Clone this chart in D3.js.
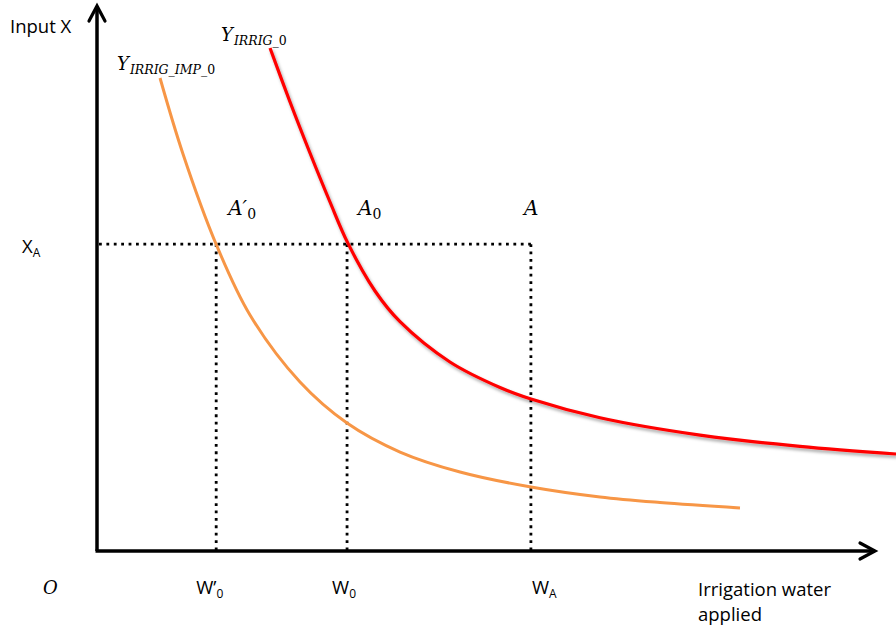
<!DOCTYPE html>
<html>
<head>
<meta charset="utf-8">
<script src="https://cdn.jsdelivr.net/npm/d3@7"></script>
<style>
  html, body { margin: 0; padding: 0; background: #fff; }
  svg { display: block; }
  .sans { font-family: "Open Sans", Lato, sans-serif; fill: #000; }
  .math { font-family: "DejaVu Serif", serif; font-style: italic; fill: #000; }
</style>
</head>
<body>
<script>
// Isoquant for the current irrigation technology (Y_IRRIG_0)
const redWater = [22.21, 24.78, 27.34, 29.91, 32.22, 35.69, 38.90, 45.31, 51.73, 55.71, 64.57, 77.41, 90.24, 102.57];
const redInput = [92.12, 82.23, 72.89, 63.92, 56.34, 47.62, 42.00, 34.62, 29.95, 27.84, 24.41, 21.23, 19.16, 17.77];

// Isoquant after the irrigation improvement (Y_IRRIG_IMP_0)
const orangeWater = [8.09, 11.04, 15.28, 19.64, 26.06, 32.09, 38.90, 46.60, 55.71, 64.57, 72.27, 82.54];
const orangeInput = [86.63, 72.71, 56.23, 43.22, 30.95, 23.44, 18.13, 14.47, 11.72, 9.89, 8.88, 7.88];

// Reference levels: water used at points A'0, A0, A and the input level X_A
const waterLevels = [15.3, 32.1, 55.7];
const waterLabels = ["W’", "W", "W"];
const waterSubs = ["0", "0", "A"];
const inputLevelXA = 56.2;
const pointNames = ["A′", "A", "A"];
const pointSubs = ["0", "0", ""];

const W = 896, H = 628;
const svg = d3.select("body").append("svg").attr("width", W).attr("height", H);

const x = d3.scaleLinear().domain([0, 100]).range([97, 876]);
const y = d3.scaleLinear().domain([0, 100]).range([551, 5]);

const defs = svg.append("defs");
defs.append("marker")
  .attr("id", "arrow")
  .attr("markerUnits", "userSpaceOnUse")
  .attr("viewBox", "-20 -12 24 24")
  .attr("markerWidth", 24).attr("markerHeight", 24)
  .attr("refX", 0).attr("refY", 0)
  .attr("orient", "auto")
  .append("path")
  .attr("d", "M-15,-8 L0,0 L-15,8")
  .attr("fill", "none").attr("stroke", "#000")
  .attr("stroke-width", 3.2).attr("stroke-linejoin", "miter").attr("stroke-linecap", "round");

const shadow = defs.append("filter").attr("id", "shadow")
  .attr("x", "-10%").attr("y", "-10%").attr("width", "130%").attr("height", "130%");
shadow.append("feDropShadow")
  .attr("dx", 1.5).attr("dy", 2.5).attr("stdDeviation", 1.4)
  .attr("flood-color", "#000").attr("flood-opacity", 0.35);

// Dotted guide lines
const dotted = { stroke: "#000", "stroke-width": 2.8, "stroke-dasharray": "2.8 4.6" };
const g = svg.append("g");
function guide(x1, y1, x2, y2) {
  const l = g.append("line").attr("x1", x1).attr("y1", y1).attr("x2", x2).attr("y2", y2);
  Object.entries(dotted).forEach(([k, v]) => l.attr(k, v));
}
guide(x(0) + 2, y(inputLevelXA), x(waterLevels[2]), y(inputLevelXA));
waterLevels.forEach(w => guide(x(w), y(inputLevelXA), x(w), y(0)));

// Isoquant curves
const line = d3.line().x(d => x(d[0])).y(d => y(d[1])).curve(d3.curveCatmullRom.alpha(0.5));
svg.append("path")
  .datum(d3.zip(orangeWater, orangeInput))
  .attr("d", line)
  .attr("fill", "none").attr("stroke", "#F79646").attr("stroke-width", 3);
svg.append("path")
  .datum(d3.zip(redWater, redInput))
  .attr("d", line)
  .attr("fill", "none").attr("stroke", "#FF0000").attr("stroke-width", 3.2)
  .attr("filter", "url(#shadow)");

// Axes
svg.append("line")
  .attr("x1", x(0)).attr("y1", y(0)).attr("x2", x(0)).attr("y2", y.range()[1] + 1)
  .attr("stroke", "#000").attr("stroke-width", 3.5).attr("marker-end", "url(#arrow)");
svg.append("line")
  .attr("x1", x(0) - 1.5).attr("y1", y(0)).attr("x2", x.range()[1] - 1).attr("y2", y(0))
  .attr("stroke", "#000").attr("stroke-width", 3.5).attr("marker-end", "url(#arrow)");

// Axis titles
svg.append("text").attr("class", "sans").attr("x", 10).attr("y", 33)
  .attr("font-size", 18.5).text("Input X");
const xt = svg.append("text").attr("class", "sans").attr("font-size", 18.5);
xt.append("tspan").attr("x", 698).attr("y", 596).text("Irrigation water");
xt.append("tspan").attr("x", 698).attr("y", 621).text("applied");

// Origin
svg.append("text").attr("class", "math").attr("x", 43).attr("y", 594)
  .attr("font-size", 18).text("O");

// Input level label X_A
const xa = svg.append("text").attr("class", "sans").attr("x", 22).attr("y", y(inputLevelXA) + 9)
  .attr("font-size", 18.5);
xa.append("tspan").text("X");
xa.append("tspan").attr("font-size", 12).attr("dy", 4).text("A");

// Water level labels
const wOffsets = [-20, -15, 1];
waterLevels.forEach((w, i) => {
  const t = svg.append("text").attr("class", "sans")
    .attr("x", x(w) + wOffsets[i]).attr("y", 594).attr("font-size", 18.5);
  t.append("tspan").text(waterLabels[i]);
  t.append("tspan").attr("font-size", 12).attr("dy", 4).text(waterSubs[i]);
});

// Point labels A'0, A0, A
const pOffsets = [12, 11, -7];
waterLevels.forEach((w, i) => {
  const t = svg.append("text").attr("class", "math")
    .attr("x", x(w) + pOffsets[i]).attr("y", 215).attr("font-size", 20);
  t.append("tspan").text(pointNames[i]);
  if (pointSubs[i]) {
    t.append("tspan").attr("font-size", 14).attr("font-style", "normal").attr("dy", 4).text(pointSubs[i]);
  }
});

// Curve labels
function curveLabel(px, py, sub) {
  const t = svg.append("text").attr("class", "math").attr("x", px).attr("y", py).attr("font-size", 18);
  t.append("tspan").text("Y");
  t.append("tspan").attr("font-size", 12.5).attr("dy", 4).attr("dx", 1).text(sub);
  t.append("tspan").attr("font-size", 12.5).attr("font-style", "normal").text("0");
}
curveLabel(221, 41, "IRRIG_");
curveLabel(117, 70, "IRRIG_IMP_");
</script>
</body>
</html>
